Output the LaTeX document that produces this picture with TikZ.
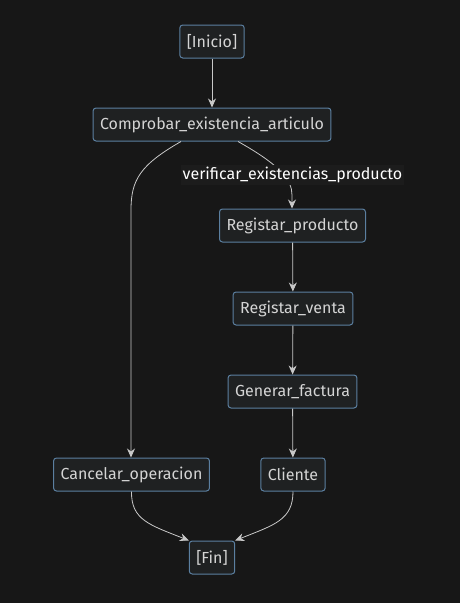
\documentclass[tikz,border=0pt]{standalone}
\usepackage{fontspec}
\setmainfont{Fira Sans}
\usetikzlibrary{arrows.meta,positioning}
\definecolor{bgcol}{HTML}{171717}
\definecolor{boxfill}{HTML}{1F2122}
\definecolor{boxline}{HTML}{5B7FA0}
\definecolor{txtcol}{HTML}{D4D4D4}
\definecolor{linecol}{HTML}{C8C8C8}
\definecolor{lblfill}{HTML}{1C1C1C}
\tikzset{
  state/.style={
    draw=boxline,
    fill=boxfill,
    rounded corners=3pt,
    line width=1pt,
    text=txtcol,
    minimum height=33pt,
    inner xsep=7pt,
    font=\fontsize{16}{18}\selectfont
  },
  flow/.style={
    draw=linecol,
    line width=0.8pt,
    -{Stealth[length=9pt,width=8pt,inset=3pt]}
  },
  edgelbl/.style={
    fill=lblfill,
    text=white,
    inner sep=2pt,
    font=\fontsize{16}{18}\selectfont
  }
}
\begin{document}
\begin{tikzpicture}[x=1pt,y=-1pt]
    \fill[bgcol] (0,0) rectangle (460,603);
    \useasboundingbox (0,0) rectangle (460,603);
    \node[state] (inicio) at (212,41.5) {[Inicio]};
    \node[state] (comprobar) at (212,124.5) {Comprobar\_existencia\_articulo};
    \node[state] (regprod) at (292.5,225.5) {Registar\_producto};
    \node[state] (regventa) at (293,308.5) {Registar\_venta};
    \node[state] (factura) at (292.5,391.5) {Generar\_factura};
    \node[state] (cancelar) at (131.5,474.5) {Cancelar\_operacion};
    \node[state] (cliente) at (293,474.5) {Cliente};
    \node[state] (fin) at (212,557.5) {[Fin]};
    \draw[flow] (inicio) -- (comprobar);
    \draw[flow] (comprobar.south-|181,0) .. controls (140,165) and (131,180) .. (131,210) -- (cancelar.north-|131,0);
    \draw[flow] (comprobar.south-|238,0) .. controls (280,165) and (292,180) .. (292,195) -- (regprod.north-|292,0);
    \node[edgelbl] (verif) at (292.5,175) {verificar\_existencias\_producto};
    \draw[flow] (regprod) -- (regventa);
    \draw[flow] (regventa) -- (factura);
    \draw[flow] (factura) -- (cliente);
    \draw[flow] (cancelar.south) .. controls (131,520) and (150,525) .. (fin.north west);
    \draw[flow] (cliente.south) .. controls (293,520) and (274,525) .. (fin.north east);
\end{tikzpicture}
\end{document}
